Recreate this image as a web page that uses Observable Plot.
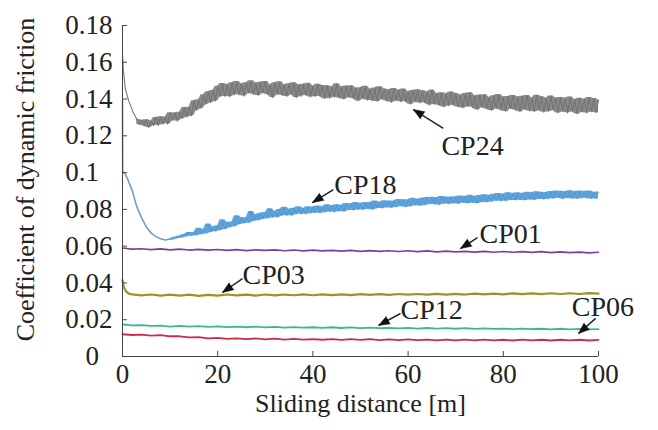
<!DOCTYPE html>
<html>
<head>
<meta charset="utf-8">
<script src="https://cdn.jsdelivr.net/npm/d3@7"></script>
<script src="https://cdn.jsdelivr.net/npm/@observablehq/plot@0.6"></script>
<style>
  body { margin: 0; background: #fff; }
</style>
</head>
<body>
<div id="chart"></div>
<script>
// Axis ticks and their labels (short labels are padded with a figure space)
const xTicks = [0, 20, 40, 60, 80, 100];
const xTickLabels = ["0", "20", "40", "60", "80", "100"];
const yTicks = [0, 0.02, 0.04, 0.06, 0.08, 0.1, 0.12, 0.14, 0.16, 0.18];
const yTickLabels = ["0\u2007", "0.02", "0.04", "0.06", "0.08", "0.1\u2007", "0.12", "0.14", "0.16", "0.18"];

// Friction records: a run-in segment as [distance, coefficient] pairs,
// followed by readings taken at a fixed spacing from a start distance.
const cp24Head = [[0, 0.164], [0.2, 0.155], [0.6, 0.1455], [1.3, 0.139], [2.3, 0.1325]];
const cp24Start = 3, cp24Step = 0.5;
const cp24Values = [
  0.1290, 0.1262, 0.1285, 0.1255, 0.1288, 0.1245, 0.1280, 0.1256, 0.1300, 0.1257,
  0.1304, 0.1264, 0.1302, 0.1264, 0.1325, 0.1284, 0.1324, 0.1280, 0.1328, 0.1294,
  0.1354, 0.1303, 0.1355, 0.1309, 0.1391, 0.1339, 0.1396, 0.1350, 0.1424, 0.1372,
  0.1440, 0.1381, 0.1447, 0.1389, 0.1470, 0.1413, 0.1485, 0.1415, 0.1478, 0.1413,
  0.1488, 0.1424, 0.1496, 0.1423, 0.1482, 0.1416, 0.1489, 0.1433, 0.1499, 0.1426,
  0.1487, 0.1420, 0.1491, 0.1433, 0.1495, 0.1425, 0.1476, 0.1408, 0.1488, 0.1425,
  0.1494, 0.1421, 0.1477, 0.1414, 0.1483, 0.1425, 0.1488, 0.1408, 0.1477, 0.1416,
  0.1481, 0.1421, 0.1486, 0.1411, 0.1469, 0.1414, 0.1481, 0.1415, 0.1474, 0.1402,
  0.1472, 0.1405, 0.1466, 0.1411, 0.1483, 0.1406, 0.1465, 0.1399, 0.1471, 0.1410,
  0.1472, 0.1403, 0.1460, 0.1390, 0.1462, 0.1402, 0.1469, 0.1394, 0.1454, 0.1391,
  0.1460, 0.1387, 0.1467, 0.1399, 0.1455, 0.1389, 0.1450, 0.1382, 0.1457, 0.1391,
  0.1448, 0.1385, 0.1455, 0.1386, 0.1440, 0.1372, 0.1447, 0.1385, 0.1451, 0.1379,
  0.1445, 0.1380, 0.1438, 0.1367, 0.1449, 0.1372, 0.1429, 0.1366, 0.1434, 0.1357,
  0.1429, 0.1364, 0.1439, 0.1367, 0.1430, 0.1357, 0.1421, 0.1352, 0.1430, 0.1360,
  0.1434, 0.1355, 0.1417, 0.1342, 0.1422, 0.1356, 0.1424, 0.1346, 0.1408, 0.1338,
  0.1418, 0.1349, 0.1425, 0.1340, 0.1411, 0.1333, 0.1414, 0.1348, 0.1420, 0.1340,
  0.1411, 0.1331, 0.1415, 0.1344, 0.1419, 0.1335, 0.1404, 0.1331, 0.1421, 0.1338,
  0.1412, 0.1328, 0.1404, 0.1333, 0.1417, 0.1339, 0.1405, 0.1324, 0.1409, 0.1332,
  0.1404, 0.1325, 0.1411, 0.1333, 0.1396, 0.1319, 0.1405, 0.1330, 0.1399, 0.1324,
  0.1408, 0.1331, 0.1403, 0.1326, 0.1395
];

const cp18Head = [[0, 0.139], [0.05, 0.1005], [0.5, 0.0995], [1, 0.097], [2, 0.0905],
  [3, 0.0815], [4, 0.0755], [5, 0.0705], [6, 0.0672], [7, 0.0652], [8, 0.064], [9, 0.0634]];
const cp18Start = 10, cp18Step = 0.5;
const cp18Values = [
  0.0639, 0.0635, 0.0648, 0.0642, 0.0655, 0.0646, 0.0663, 0.0652, 0.0675, 0.0655,
  0.0675, 0.0658, 0.0698, 0.0664, 0.0690, 0.0668, 0.0720, 0.0676, 0.0704, 0.0680,
  0.0711, 0.0686, 0.0743, 0.0692, 0.0729, 0.0701, 0.0731, 0.0707, 0.0765, 0.0718,
  0.0754, 0.0723, 0.0755, 0.0726, 0.0789, 0.0736, 0.0770, 0.0740, 0.0779, 0.0747,
  0.0783, 0.0750, 0.0804, 0.0755, 0.0788, 0.0756, 0.0799, 0.0765, 0.0811, 0.0765,
  0.0801, 0.0766, 0.0806, 0.0773, 0.0815, 0.0773, 0.0805, 0.0773, 0.0814, 0.0778,
  0.0813, 0.0780, 0.0819, 0.0779, 0.0814, 0.0783, 0.0825, 0.0787, 0.0820, 0.0784,
  0.0825, 0.0789, 0.0823, 0.0787, 0.0832, 0.0795, 0.0830, 0.0794, 0.0838, 0.0798,
  0.0832, 0.0796, 0.0838, 0.0802, 0.0837, 0.0798, 0.0845, 0.0805, 0.0839, 0.0805,
  0.0847, 0.0810, 0.0846, 0.0807, 0.0846, 0.0812, 0.0854, 0.0817, 0.0853, 0.0812,
  0.0853, 0.0816, 0.0861, 0.0821, 0.0855, 0.0819, 0.0861, 0.0823, 0.0865, 0.0828,
  0.0866, 0.0827, 0.0863, 0.0824, 0.0870, 0.0831, 0.0867, 0.0828, 0.0867, 0.0832,
  0.0869, 0.0829, 0.0873, 0.0835, 0.0870, 0.0832, 0.0877, 0.0835, 0.0870, 0.0832,
  0.0875, 0.0839, 0.0880, 0.0838, 0.0876, 0.0841, 0.0882, 0.0846, 0.0887, 0.0844,
  0.0883, 0.0844, 0.0891, 0.0850, 0.0887, 0.0849, 0.0890, 0.0851, 0.0886, 0.0849,
  0.0893, 0.0853, 0.0890, 0.0850, 0.0896, 0.0856, 0.0893, 0.0854, 0.0892, 0.0856,
  0.0897, 0.0858, 0.0900, 0.0862, 0.0898, 0.0856, 0.0896, 0.0861, 0.0902, 0.0858,
  0.0897, 0.0857, 0.0900, 0.0860, 0.0897, 0.0860, 0.0900, 0.0857, 0.0893, 0.0857,
  0.0894
];

const cp01Head = [];
const cp01Start = 0, cp01Step = 2;
const cp01Values = [
  0.0590, 0.0584, 0.0586, 0.0581, 0.0585, 0.0580, 0.0584, 0.0579, 0.0583, 0.0578,
  0.0582, 0.0577, 0.0581, 0.0576, 0.0580, 0.0577, 0.0580, 0.0575, 0.0579, 0.0574,
  0.0578, 0.0574, 0.0577, 0.0573, 0.0577, 0.0572, 0.0576, 0.0572, 0.0575, 0.0571,
  0.0575, 0.0570, 0.0574, 0.0569, 0.0573, 0.0569, 0.0572, 0.0568, 0.0572, 0.0567,
  0.0571, 0.0567, 0.0570, 0.0566, 0.0570, 0.0565, 0.0569, 0.0565, 0.0568, 0.0564,
  0.0567
];

const cp03Head = [[0, 0.0415], [0.3, 0.0375], [0.8, 0.0352], [1.4, 0.0341]];
const cp03Start = 2, cp03Step = 2;
const cp03Values = [
  0.0338, 0.0332, 0.0337, 0.0331, 0.0336, 0.0331, 0.0336, 0.0330, 0.0335, 0.0331,
  0.0337, 0.0332, 0.0336, 0.0331, 0.0337, 0.0332, 0.0337, 0.0333, 0.0338, 0.0333,
  0.0338, 0.0334, 0.0338, 0.0334, 0.0339, 0.0335, 0.0339, 0.0335, 0.0340, 0.0336,
  0.0340, 0.0336, 0.0341, 0.0337, 0.0341, 0.0337, 0.0342, 0.0338, 0.0342, 0.0338,
  0.0343, 0.0339, 0.0343, 0.0339, 0.0344, 0.0340, 0.0344, 0.0340, 0.0345, 0.0342
];

const cp12Head = [];
const cp12Start = 0, cp12Step = 2;
const cp12Values = [
  0.0174, 0.0169, 0.0171, 0.0166, 0.0168, 0.0163, 0.0166, 0.0162, 0.0165, 0.0161,
  0.0164, 0.0160, 0.0163, 0.0159, 0.0162, 0.0158, 0.0161, 0.0157, 0.0160, 0.0157,
  0.0159, 0.0156, 0.0159, 0.0155, 0.0158, 0.0154, 0.0157, 0.0154, 0.0156, 0.0153,
  0.0156, 0.0152, 0.0155, 0.0152, 0.0154, 0.0151, 0.0154, 0.0150, 0.0153, 0.0150,
  0.0152, 0.0149, 0.0152, 0.0149, 0.0151, 0.0148, 0.0151, 0.0148, 0.0150, 0.0147,
  0.0149
];

const cp06Head = [];
const cp06Start = 0, cp06Step = 2;
const cp06Values = [
  0.0121, 0.0117, 0.0119, 0.0114, 0.0116, 0.0110, 0.0110, 0.0104, 0.0105, 0.0099,
  0.0101, 0.0096, 0.0099, 0.0094, 0.0098, 0.0093, 0.0097, 0.0092, 0.0096, 0.0092,
  0.0095, 0.0091, 0.0095, 0.0090, 0.0094, 0.0090, 0.0094, 0.0089, 0.0093, 0.0089,
  0.0093, 0.0089, 0.0092, 0.0088, 0.0092, 0.0088, 0.0092, 0.0088, 0.0092, 0.0088,
  0.0091, 0.0087, 0.0092, 0.0088, 0.0091, 0.0087, 0.0091, 0.0088, 0.0091, 0.0087,
  0.0090
];

// Callouts: label, arrow tip, arrow tail and text anchor (data coordinates)
const calloutLabels = ["CP24", "CP18", "CP01", "CP03", "CP12", "CP06"];
const calloutTipX  = [61.1, 39.9, 71.0, 21.0, 53.8, 95.8];
const calloutTipY  = [0.1343, 0.0837, 0.0587, 0.0348, 0.0169, 0.0125];
const calloutTailX = [67.4, 44.3, 74.6, 25.2, 58.4, 99.4];
const calloutTailY = [0.124, 0.0908, 0.0647, 0.0424, 0.0234, 0.0207];
const calloutTextX = [67.0, 44.5, 75.0, 25.2, 58.4, 94.4];
const calloutTextY = [0.1142, 0.0932, 0.0665, 0.0442, 0.0252, 0.0268];

// ---- build rows ----
function rows(head, start, step, values) {
  return head.map(([d, v]) => ({d, v}))
    .concat(values.map((v, i) => ({d: start + i * step, v})));
}
const cp24 = rows(cp24Head, cp24Start, cp24Step, cp24Values);
const cp24Scatter = rows([], cp24Start, cp24Step, cp24Values);
const cp18Run = rows(cp18Head, 0, 0, []).concat([{d: cp18Start, v: cp18Values[0]}]);
const cp18 = rows([], cp18Start, cp18Step, cp18Values);
const cp01 = rows(cp01Head, cp01Start, cp01Step, cp01Values);
const cp03 = rows(cp03Head, cp03Start, cp03Step, cp03Values);
const cp12 = rows(cp12Head, cp12Start, cp12Step, cp12Values);
const cp06 = rows(cp06Head, cp06Start, cp06Step, cp06Values);

// Frame geometry
const W = 658, H = 430;
const mL = 122, mR = 60, mT = 25, mB = 74;
const xDomain = [0, 100], yDomain = [0, 0.18];
const sx = d3.scaleLinear(xDomain, [mL, W - mR]);
const sy = d3.scaleLinear(yDomain, [H - mB, mT]);

const callouts = calloutLabels.map((label, i) => {
  const ux = sx(calloutTipX[i]) - sx(calloutTailX[i]);
  const uy = sy(calloutTipY[i]) - sy(calloutTailY[i]);
  return {
    label,
    tipX: calloutTipX[i], tipY: calloutTipY[i],
    tailX: calloutTailX[i], tailY: calloutTailY[i],
    textX: calloutTextX[i], textY: calloutTextY[i],
    angle: Math.atan2(ux, -uy) * 180 / Math.PI
  };
});

// Scatter envelope of a noisy record: running min / max over neighbouring readings
const envelope = (k) => Plot.map(
  {y1: Plot.window({k, reduce: "min"}), y2: Plot.window({k, reduce: "max"})},
  {x: "d", y1: "v", y2: "v"}
);

const ink = "#222";
const serif = "'Liberation Serif', 'Times New Roman', serif";

const chart = Plot.plot({
  width: W, height: H,
  marginLeft: mL, marginRight: mR, marginTop: mT, marginBottom: mB,
  x: {domain: xDomain},
  y: {domain: yDomain},
  style: {fontFamily: serif, fontSize: "27px", background: "#fff", color: ink, overflow: "visible"},
  marks: [
    // series
    Plot.line(cp06, {x: "d", y: "v", stroke: "#c72f48", strokeWidth: 1.8}),
    Plot.line(cp12, {x: "d", y: "v", stroke: "#3cb98a", strokeWidth: 1.8}),
    Plot.line(cp03, {x: "d", y: "v", stroke: "#9e9222", strokeWidth: 2.2}),
    Plot.line(cp01, {x: "d", y: "v", stroke: "#7b3f9e", strokeWidth: 1.7}),
    Plot.line(cp18Run, {x: "d", y: "v", stroke: "#6f9fc8", strokeWidth: 1.6}),
    Plot.areaY(cp18, {...envelope(3), fill: "#62a5dd"}),
    Plot.line(cp18, {x: "d", y: "v", stroke: "#4893d4", strokeWidth: 0.7}),
    Plot.areaY(cp24Scatter, {...envelope(3), fill: "#8a8a8a"}),
    Plot.line(cp24, {x: "d", y: "v", stroke: "#747474", strokeWidth: 1.1}),

    // axis lines and inward ticks
    Plot.ruleX([0], {y1: 0, y2: 0.18, stroke: "#444", strokeWidth: 1}),
    Plot.ruleY([0], {x1: 0, x2: 100, stroke: "#444", strokeWidth: 1}),
    Plot.ruleY(yTicks, {x1: 0, x2: 1.05, stroke: "#444", strokeWidth: 1}),
    Plot.ruleX(xTicks.filter(d => d > 0), {y1: 0, y2: 0.0027, stroke: "#444", strokeWidth: 1}),

    // tick labels
    Plot.axisY({ticks: yTicks, tickSize: 0, tickPadding: 10, label: null,
      tickFormat: d => yTickLabels[yTicks.indexOf(d)], fill: ink}),
    Plot.axisX({ticks: xTicks, tickSize: 0, tickPadding: 7, label: null,
      tickFormat: d => xTickLabels[xTicks.indexOf(d)], fill: ink}),

    // axis titles
    Plot.text(["Sliding distance [m]"], {frameAnchor: "bottom", dy: 55, fill: ink, fontSize: 26}),
    Plot.text(["Coefficient of dynamic friction"], {frameAnchor: "left", textAnchor: "middle",
      rotate: -90, dx: -97, dy: -11.5, fill: ink, fontSize: 26}),

    // callouts
    Plot.link(callouts, {x1: "tailX", y1: "tailY", x2: "tipX", y2: "tipY", stroke: ink, strokeWidth: 1.5}),
    Plot.vector(callouts, {x: "tipX", y: "tipY", rotate: "angle", length: 11, r: 4.2,
      shape: "spike", anchor: "end", fill: "#111", stroke: "#111", strokeWidth: 0.5}),
    Plot.text(callouts, {x: "textX", y: "textY", text: "label", textAnchor: "start",
      fill: ink, fontSize: 28})
  ]
});

document.getElementById("chart").appendChild(chart);
</script>
</body>
</html>
